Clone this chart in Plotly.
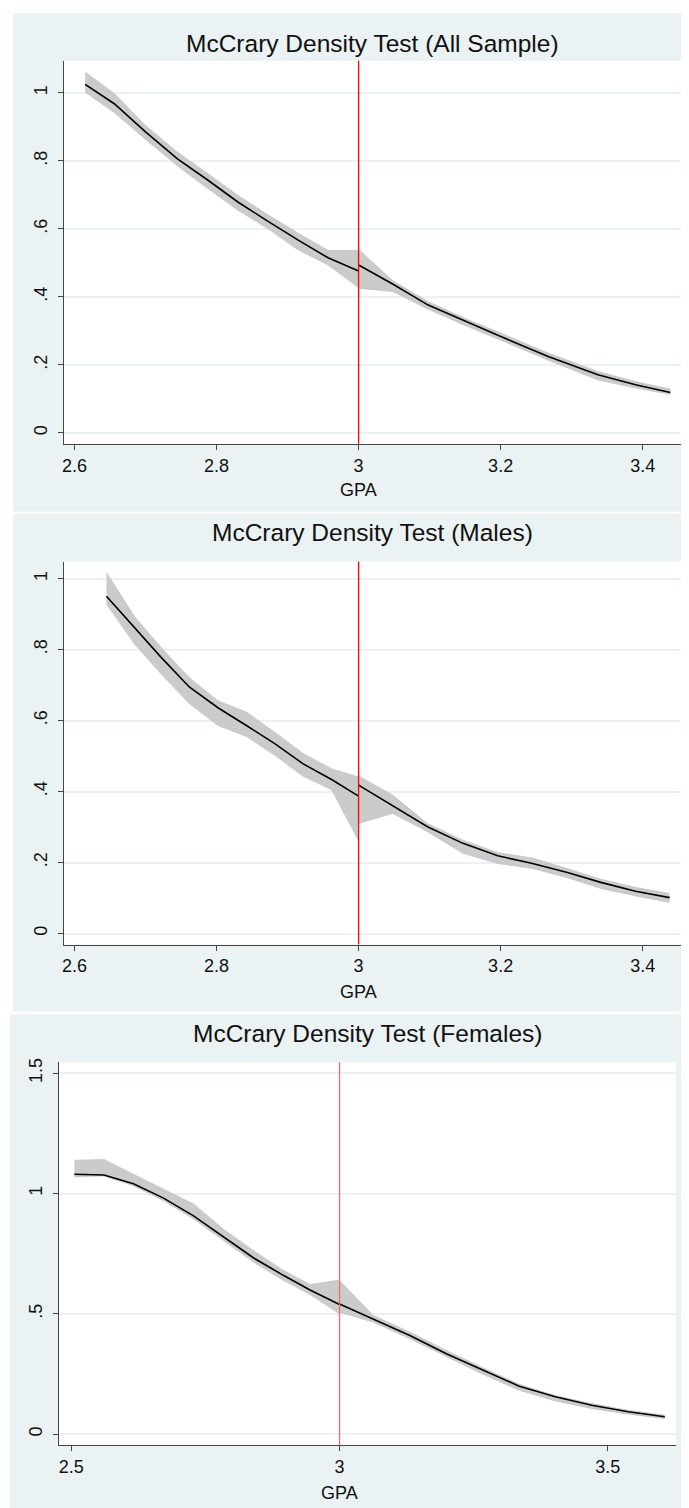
import plotly.graph_objects as go
from plotly.subplots import make_subplots

# page is 689x1508, the browser puts the figure 8px in from the top-left corner
PAGE_W, PAGE_H, PAD = 689, 1508, 8
W, H = PAGE_W - PAD, PAGE_H - PAD
CUTOFF = 3.0

# --- All sample: fitted density and CI, left / right of the cutoff
all_gpa_l = [2.615, 2.656, 2.700, 2.745, 2.788, 2.830, 2.872, 2.915, 2.957, 3.0]
all_fit_l = [1.025, 0.968, 0.885, 0.806, 0.743, 0.679, 0.623, 0.567, 0.515, 0.476]
all_hi_l = [1.061, 0.998, 0.904, 0.826, 0.762, 0.699, 0.642, 0.587, 0.537, 0.537]
all_lo_l = [1.002, 0.942, 0.863, 0.785, 0.718, 0.655, 0.601, 0.538, 0.494, 0.427]
all_gpa_r = [3.0, 3.048, 3.098, 3.150, 3.201, 3.267, 3.337, 3.390, 3.439]
all_fit_r = [0.494, 0.438, 0.376, 0.328, 0.283, 0.225, 0.171, 0.142, 0.119]
all_hi_r = [0.540, 0.448, 0.386, 0.337, 0.293, 0.235, 0.181, 0.151, 0.129]
all_lo_r = [0.425, 0.416, 0.364, 0.316, 0.272, 0.214, 0.156, 0.132, 0.113]

# --- Males
male_gpa_l = [2.645, 2.685, 2.722, 2.762, 2.802, 2.842, 2.882, 2.922, 2.962, 3.0]
male_fit_l = [0.950, 0.862, 0.778, 0.694, 0.636, 0.586, 0.535, 0.478, 0.434, 0.387]
male_hi_l = [1.017, 0.892, 0.806, 0.720, 0.656, 0.624, 0.567, 0.507, 0.464, 0.441]
male_lo_l = [0.928, 0.814, 0.731, 0.647, 0.586, 0.555, 0.502, 0.443, 0.405, 0.261]
male_gpa_r = [3.0, 3.048, 3.097, 3.147, 3.196, 3.245, 3.294, 3.341, 3.390, 3.438]
male_fit_r = [0.418, 0.360, 0.301, 0.254, 0.219, 0.197, 0.172, 0.144, 0.119, 0.101]
male_hi_r = [0.444, 0.390, 0.310, 0.263, 0.228, 0.213, 0.183, 0.153, 0.130, 0.113]
male_lo_r = [0.310, 0.338, 0.287, 0.226, 0.197, 0.183, 0.157, 0.127, 0.106, 0.087]

# --- Females
fem_gpa_l = [2.506, 2.561, 2.616, 2.672, 2.728, 2.784, 2.840, 2.896, 2.945, 3.0]
fem_fit_l = [1.080, 1.077, 1.041, 0.981, 0.907, 0.818, 0.732, 0.659, 0.599, 0.539]
fem_hi_l = [1.138, 1.142, 1.080, 1.018, 0.956, 0.852, 0.762, 0.680, 0.622, 0.641]
fem_lo_l = [1.069, 1.073, 1.032, 0.970, 0.894, 0.804, 0.714, 0.638, 0.580, 0.500]
fem_gpa_r = [3.0, 3.063, 3.131, 3.199, 3.267, 3.335, 3.402, 3.470, 3.538, 3.606]
fem_fit_r = [0.541, 0.479, 0.410, 0.334, 0.265, 0.199, 0.155, 0.120, 0.093, 0.072]
fem_hi_r = [0.638, 0.493, 0.424, 0.348, 0.276, 0.207, 0.160, 0.127, 0.099, 0.079]
fem_lo_r = [0.507, 0.465, 0.396, 0.323, 0.249, 0.182, 0.138, 0.106, 0.083, 0.064]

titles = ["McCrary Density Test (All Sample)",
          "McCrary Density Test (Males)",
          "McCrary Density Test (Females)"]
x_ticks_12 = [2.6, 2.8, 3.0, 3.2, 3.4]
x_labels_12 = ["2.6", "2.8", "3", "3.2", "3.4"]
y_ticks_12 = [0, 0.2, 0.4, 0.6, 0.8, 1.0]
y_labels_12 = ["0", ".2", ".4", ".6", ".8", "1"]
x_ticks_3 = [2.5, 3.0, 3.5]
x_labels_3 = ["2.5", "3", "3.5"]
y_ticks_3 = [0, 0.5, 1.0, 1.5]
y_labels_3 = ["0", ".5", "1", "1.5"]

BG = "#EAF2F3"
BAND = "#CBCBCB"
FONT = "Liberation Sans, Arial, sans-serif"


def px(x):
    return (x - PAD) / W


def py(y):
    return 1 - (y - PAD) / H


# page-pixel layout of each panel: plot box (left, right, top, bottom),
# background box, title y, GPA label x/y
panels = [
    dict(box=(62, 681, 57, 441), bg=(11, 689, 9, 509), ty=40, gx=358, gy=487,
         xr=[2.585, 3.454], yr=[-0.032, 1.094], red="#FF0000"),
    dict(box=(62, 681, 559, 943), bg=(11, 689, 511, 1010), ty=530, gx=358, gy=991,
         xr=[2.585, 3.454], yr=[-0.031, 1.048], red="#FF0000"),
    dict(box=(57, 676, 1061, 1445), bg=(8, 689, 1013, 1508), ty=1032, gx=338, gy=1493,
         xr=[2.477, 3.627], yr=[-0.046, 1.546], red="#EF6B6B"),
]

series = [
    [(all_gpa_l, all_fit_l, all_lo_l, all_hi_l), (all_gpa_r, all_fit_r, all_lo_r, all_hi_r)],
    [(male_gpa_l, male_fit_l, male_lo_l, male_hi_l), (male_gpa_r, male_fit_r, male_lo_r, male_hi_r)],
    [(fem_gpa_l, fem_fit_l, fem_lo_l, fem_hi_l), (fem_gpa_r, fem_fit_r, fem_lo_r, fem_hi_r)],
]

fig = make_subplots(rows=3, cols=1)

for i, segs in enumerate(series):
    row = i + 1
    for gpa, fit, lo, hi in segs:
        fig.add_trace(go.Scatter(x=gpa, y=lo, mode="lines",
                                 line=dict(color="#BDBDBD", width=0.6),
                                 hoverinfo="skip"), row=row, col=1)
        fig.add_trace(go.Scatter(x=gpa, y=hi, mode="lines", fill="tonexty",
                                 fillcolor=BAND, line=dict(color="#BDBDBD", width=0.6),
                                 hoverinfo="skip"), row=row, col=1)
        fig.add_trace(go.Scatter(x=gpa, y=fit, mode="lines",
                                 line=dict(color="black", width=1.6)), row=row, col=1)

shapes = []
annotations = []
for i, p in enumerate(panels):
    l, r, t, b = p["box"]
    bl, br, bt, bb = p["bg"]
    sfx = "" if i == 0 else str(i + 1)
    # light bluish-gray graph region, then white plot region on top of it
    shapes.append(dict(type="rect", xref="paper", yref="paper", layer="below",
                       x0=px(bl), x1=px(br), y0=py(bb), y1=py(bt),
                       fillcolor=BG, line=dict(width=0)))
    shapes.append(dict(type="rect", xref="paper", yref="paper", layer="below",
                       x0=px(l), x1=px(r), y0=py(b), y1=py(t),
                       fillcolor="white", line=dict(width=0)))
    shapes.append(dict(type="line", xref="x" + sfx, yref="y" + sfx + " domain",
                       x0=CUTOFF, x1=CUTOFF, y0=0, y1=1, layer="above",
                       line=dict(color=p["red"], width=1.3)))
    annotations.append(dict(text=titles[i], xref="paper", yref="paper",
                            x=px((l + r) / 2), y=py(p["ty"]), showarrow=False,
                            xanchor="center", yanchor="middle",
                            font=dict(size=24.5, color="#111111", family=FONT)))
    annotations.append(dict(text="GPA", xref="paper", yref="paper",
                            x=px(p["gx"]), y=py(p["gy"]), showarrow=False,
                            xanchor="center", yanchor="middle",
                            font=dict(size=18, color="#111111", family=FONT)))

    xt, xl = (x_ticks_3, x_labels_3) if i == 2 else (x_ticks_12, x_labels_12)
    yt, yl = (y_ticks_3, y_labels_3) if i == 2 else (y_ticks_12, y_labels_12)
    fig.update_xaxes(row=i + 1, col=1, domain=[px(l), px(r)], range=p["xr"],
                     tickvals=xt, ticktext=xl, ticks="outside", ticklen=5,
                     tickcolor="#444444", showline=True, linecolor="#444444",
                     linewidth=1.3, showgrid=False, zeroline=False,
                     tickfont=dict(size=18, color="#111111", family=FONT))
    fig.update_yaxes(row=i + 1, col=1, domain=[py(b), py(t)], range=p["yr"],
                     tickvals=yt, ticktext=yl, ticks="outside", ticklen=5,
                     tickcolor="#444444", showline=True, linecolor="#444444",
                     linewidth=1.3, showgrid=True, gridcolor=BG, gridwidth=1.5,
                     zeroline=False, tickangle=-90, ticklabelstandoff=4,
                     tickfont=dict(size=18, color="#111111", family=FONT))

fig.update_layout(width=W, height=H, margin=dict(l=0, r=0, t=0, b=0),
                  paper_bgcolor="white", plot_bgcolor="white", showlegend=False,
                  shapes=shapes, annotations=annotations,
                  font=dict(family=FONT))
fig.write_html("out.html")
